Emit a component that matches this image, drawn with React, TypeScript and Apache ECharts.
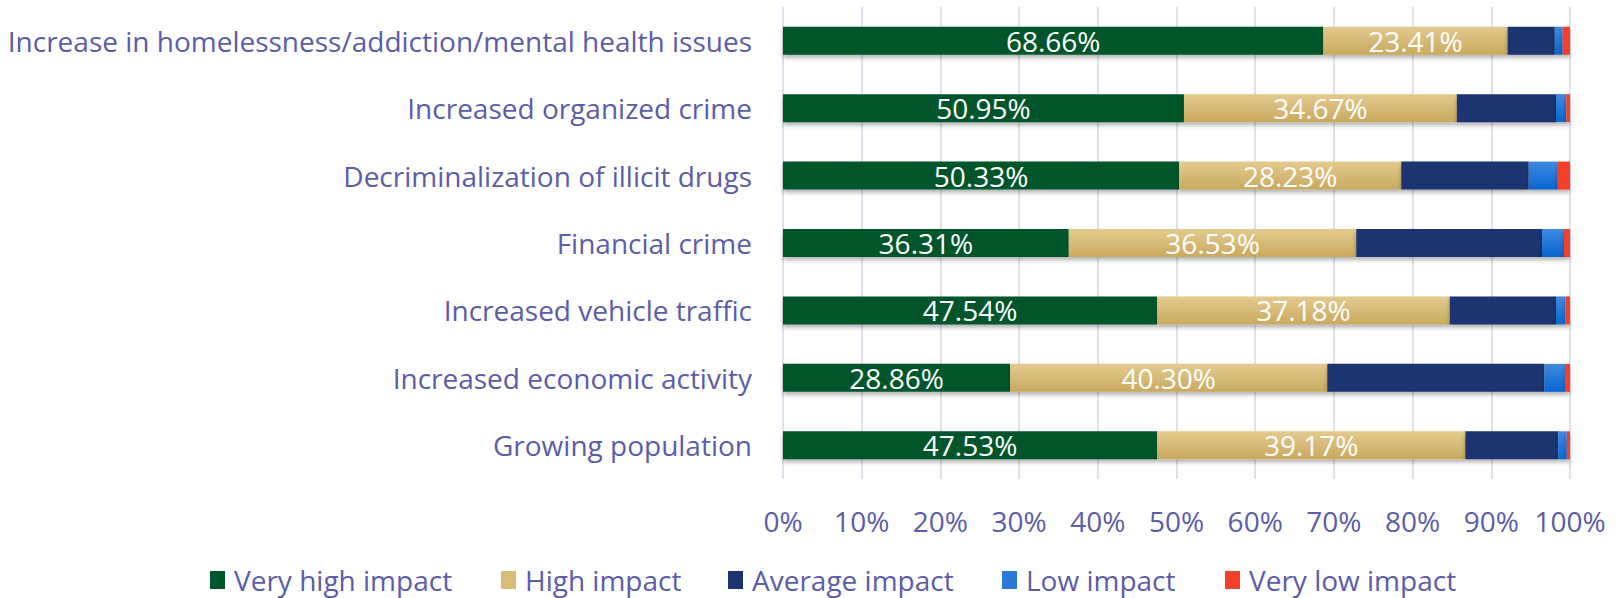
import React, { useEffect, useRef } from "react";
import * as echarts from "echarts";

const categories = [
  "Increase in homelessness/addiction/mental health issues",
  "Increased organized crime",
  "Decriminalization of illicit drugs",
  "Financial crime",
  "Increased vehicle traffic",
  "Increased economic activity",
  "Growing population",
];
const veryHigh = [68.66, 50.95, 50.33, 36.31, 47.54, 28.86, 47.53];
const high = [23.41, 34.67, 28.23, 36.53, 37.18, 40.3, 39.17];
const average = [6.0, 12.6, 16.2, 23.6, 13.5, 27.6, 11.8];
const low = [1.0, 1.3, 3.7, 2.8, 1.2, 2.6, 1.1];
const veryLow = [0.93, 0.48, 1.54, 0.76, 0.58, 0.64, 0.4];
const seriesNames = ["Very high impact", "High impact", "Average impact", "Low impact", "Very low impact"];
const xTicks = { min: 0, max: 100, interval: 10 };

const FONT = "Open Sans";
const TXT = "#5c5ca8";

export default function App() {
  const ref = useRef<HTMLDivElement>(null);
  useEffect(() => {
    if (!ref.current) return;
    const chart = echarts.init(ref.current, null, { renderer: "svg" });
    const grad = (a: string, b: string) =>
      new echarts.graphic.LinearGradient(0, 0, 0, 1, [
        { offset: 0, color: a },
        { offset: 1, color: b },
      ]);
    const colors: any[] = [
      "#00562b",
      grad("#e3ca8e", "#c9a95e"),
      "#1b3470",
      grad("#4189e0", "#0866cf"),
      "#f2402b",
    ];
    const legendColors = ["#00562b", "#d8bc78", "#1b3470", "#2a78d8", "#f2402b"];
    const datasets = [veryHigh, high, average, low, veryLow];
    const legendLeft = [205, 496, 723, 997, 1220];
    const series = datasets.map((d, i) => ({
      name: seriesNames[i],
      type: "bar",
      stack: "total",
      barWidth: 28,
      data: d,
      itemStyle: {
        color: colors[i],
        shadowBlur: 4,
        shadowOffsetY: 3,
        shadowColor: "rgba(0,0,0,0.3)",
      },
      label: {
        show: i < 2,
        position: "inside",
        color: "#ffffff",
        fontFamily: FONT,
        fontSize: 28,
        formatter: (p: any) => p.value.toFixed(2) + "%",
      },
    }));
    chart.setOption({
      animation: false,
      backgroundColor: "#ffffff",
      grid: { left: 783, right: 47, top: 7, bottom: 119, containLabel: false },
      legend: seriesNames.map((n, i) => ({
        data: [{ name: n, itemStyle: { color: legendColors[i] } }],
        left: legendLeft[i],
        top: 561,
        icon: "rect",
        itemWidth: 15,
        itemHeight: 18,
        itemGap: 10,
        selectedMode: false,
        textStyle: { color: TXT, fontFamily: FONT, fontSize: 28, padding: [0, 0, 0, 4] },
      })),
      xAxis: {
        type: "value",
        min: xTicks.min,
        max: xTicks.max,
        interval: xTicks.interval,
        axisLine: { show: false },
        axisTick: { show: false },
        splitLine: { show: true, lineStyle: { color: "#d6d6e8", width: 1.5 } },
        axisLabel: {
          color: TXT,
          fontFamily: FONT,
          fontSize: 28,
          margin: 28,
          formatter: "{value}%",
        },
      },
      yAxis: {
        type: "category",
        data: categories,
        inverse: true,
        axisLine: { show: false },
        axisTick: { show: false },
        axisLabel: { color: TXT, fontFamily: FONT, fontSize: 28, margin: 31 },
      },
      series,
    });
    return () => chart.dispose();
  }, []);
  return (
    <div
      ref={ref}
      style={{ position: "absolute", left: 0, top: 0, width: 1617, height: 598 }}
    />
  );
}
